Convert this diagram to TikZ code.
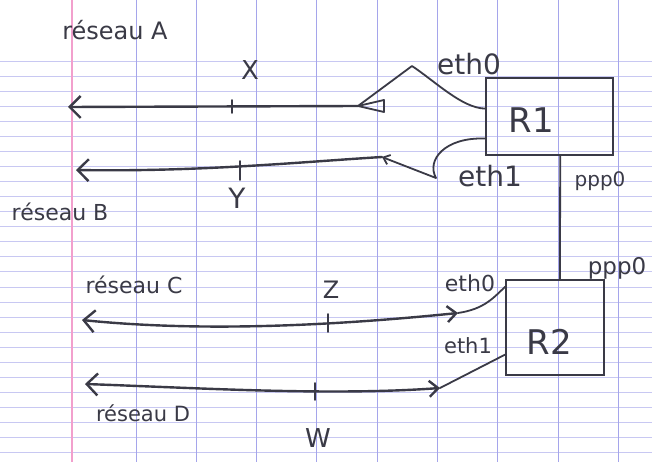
\documentclass[tikz,border=0pt]{standalone}
\usepackage{fontspec}
\setmainfont{DejaVu Sans}
\usetikzlibrary{arrows.meta,calc}
\definecolor{ink}{RGB}{58,58,70}
\definecolor{rulecol}{RGB}{200,200,242}
\definecolor{vrulecol}{RGB}{165,165,235}
\definecolor{margincol}{RGB}{242,160,205}
\tikzset{
  net/.style={draw=ink, line width=2.4pt, line cap=round, line join=round},
  wire/.style={draw=ink, line width=1.8pt, line cap=round, line join=round},
  tickmark/.style={draw=ink, line width=1.6pt, line cap=round},
  router/.style={draw=ink, line width=1.8pt, rectangle, inner sep=0pt},
  hand/.style={text=ink, inner sep=0pt, font=\fontsize{#1}{#1}\selectfont},
  hand/.default=22,
  lbarb/.tip={Straight Barb[length=11pt,width=22pt]},
  rbarb/.tip={Straight Barb[length=9pt,width=16pt]},
  sbarb/.tip={Straight Barb[length=6pt,width=10pt]}
}
\begin{document}
\begin{tikzpicture}[x=1pt,y=-1pt]
\useasboundingbox (0,0) rectangle (652,462);
% ruled paper
\fill[white] (0,0) rectangle (652,462);
\foreach \k in {0,...,26}
  \draw[rulecol, line width=0.8pt] (0,{61+15.06*\k}) -- (652,{61+15.06*\k});
\foreach \k in {0,...,8}
  \draw[vrulecol, line width=0.9pt] ({136+60.3*\k},0) -- ({136+60.3*\k},462);
\draw[margincol, line width=1.1pt] (72,0) -- (72,462);

% routers
\node[router, minimum width=127pt, minimum height=77pt] (R1) at (549.5,116.5) {};
\node[router, minimum width=98pt, minimum height=95pt] (R2) at (555,327.5) {};
\node[hand=34] (R1t) at (531,120) {R1};
\node[hand=34] (R2t) at (549,342) {R2};

% network ends and bends
\coordinate (aL) at (68,107);
\coordinate (aR) at (358,106);
\coordinate (kA) at (412,66);
\coordinate (bL) at (76,170);
\coordinate (bR) at (382,157);
\coordinate (kB) at (436,178);
\coordinate (cL) at (82,320);
\coordinate (cR) at (458,313);
\coordinate (dL) at (85,384);
\coordinate (dR) at (440,388);

% network A
\draw[net, {lbarb}-] (aL) -- (aR);
\draw[wire] (aR) -- ++(26,-6) -- ++(0,12) -- cycle;
\draw[tickmark] (232,100) -- (232,113);
\draw[wire] ($(R1.north west)!0.4!(R1.south west)$)
  .. controls (462,108) and (436,82) .. (kA) -- (aR);

% network B
\draw[net, {lbarb}-] (bL) .. controls (200,172) and (300,162) .. (bR);
\draw[tickmark] (240,161) -- (240,180);
\draw[wire, -{sbarb}] ($(R1.north west)!0.78!(R1.south west)$)
  .. controls (445,137) and (426,160) .. (kB) -- (bR);

% network C
\draw[net, {lbarb}-{rbarb}] (cL) .. controls (200,332) and (330,326) .. (cR);
\draw[tickmark] (328,314) -- (328,332);
\draw[wire] (cR) .. controls (485,309) and (494,297) .. ($(R2.north west)!0.08!(R2.south west)$);

% network D
\draw[net, {lbarb}-{rbarb}] (dL) .. controls (200,388) and (330,396) .. (dR);
\draw[tickmark] (315,383) -- (315,400);
\draw[wire] ($(R2.north west)!0.78!(R2.south west)$) -- (dR);

% serial link between the routers
\draw[wire] ($(R1.south west)!0.583!(R1.south east)$) -- ($(R2.north west)!0.55!(R2.north east)$);

% labels
\node[hand=24] (netA) at (115,30) {réseau A};
\node[hand=22] (netB) at (60,212) {réseau B};
\node[hand=22] (netC) at (134,285) {réseau C};
\node[hand=21] (netD) at (143,413) {réseau D};
\node[hand=26] (hx) at (250,70) {X};
\node[hand=28] (hy) at (237,198) {Y};
\node[hand=24] (hz) at (331,290) {Z};
\node[hand=26] (hw) at (318,438) {W};
\node[hand=28] (e0a) at (469,64) {eth0};
\node[hand=28] (e1a) at (490,176) {eth1};
\node[hand=20] (p0a) at (600,181) {ppp0};
\node[hand=23] (p0b) at (617,268) {ppp0};
\node[hand=22] (e0b) at (470,283) {eth0};
\node[hand=21] (e1b) at (468,346) {eth1};
\end{tikzpicture}
\end{document}
